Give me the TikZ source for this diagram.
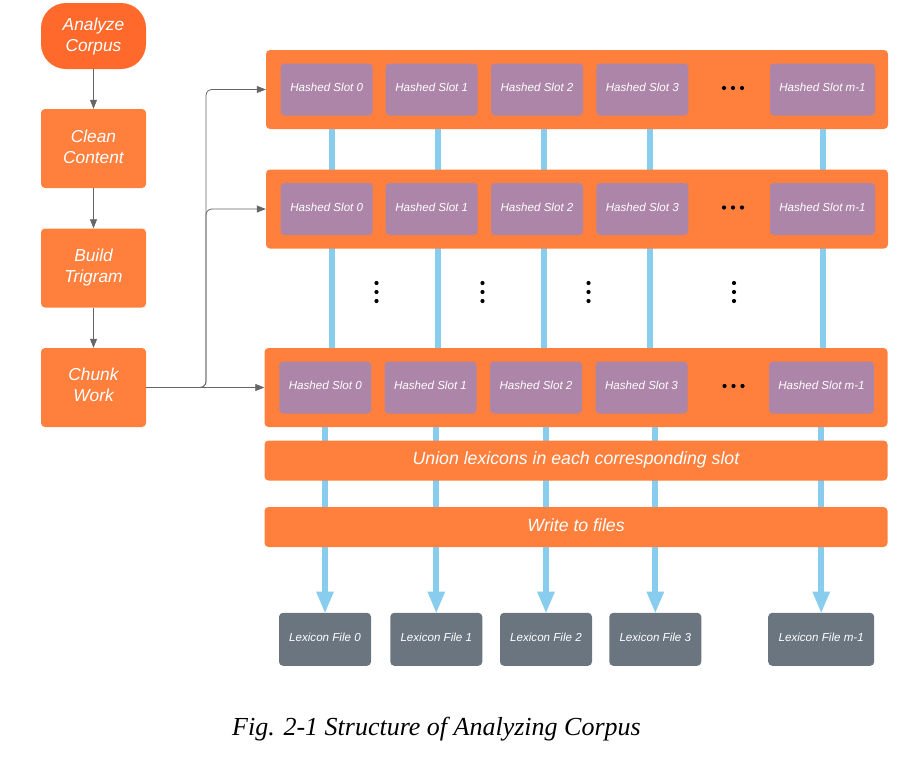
\documentclass[tikz,border=0pt]{standalone}
\usepackage{fontspec}
\setmainfont{Liberation Serif}
\setsansfont{Liberation Sans}
\usetikzlibrary{arrows.meta,backgrounds}
\definecolor{orA}{HTML}{FF6A2C}
\definecolor{orB}{HTML}{FF7F3D}
\definecolor{slotc}{HTML}{AC85A8}
\definecolor{filec}{HTML}{6A7580}
\definecolor{bluec}{HTML}{88CDEE}
\definecolor{arrc}{HTML}{666666}
\tikzset{
  leftbox/.style={fill=orB, draw=none, rounded corners=4pt, minimum width=105pt, minimum height=79pt, inner sep=0pt, text=white, align=center, font=\sffamily\itshape\fontsize{17.3}{21}\selectfont},
  rowbox/.style={fill=orB, draw=none, rounded corners=4pt, minimum width=622pt, minimum height=79pt, inner sep=0pt},
  barbox/.style={fill=orB, draw=none, rounded corners=4pt, minimum width=623pt, minimum height=40pt, inner sep=0pt, text=white, font=\sffamily\itshape\fontsize{17.7}{21}\selectfont},
  slotbox/.style={fill=slotc, draw=none, rounded corners=4pt, minimum width=92pt, minimum height=52pt, inner sep=0pt, text=white, text depth=4pt, font=\sffamily\itshape\fontsize{11.6}{14}\selectfont},
  filebox/.style={fill=filec, draw=none, rounded corners=4pt, minimum width=92pt, minimum height=53pt, inner sep=0pt, text=white, text depth=4pt, font=\sffamily\itshape\fontsize{11.6}{14}\selectfont},
  garrow/.style={draw=arrc, line width=0.8pt, -{Triangle[width=7pt,length=9pt]}},
  bline/.style={draw=bluec, line width=6pt},
  barrow/.style={draw=bluec, line width=6pt, -{Triangle[width=16pt,length=22pt]}, shorten >=-1pt},
  dotc/.style={fill=black, draw=none}
}
\begin{document}
\begin{tikzpicture}[x=1pt,y=-1pt]
\useasboundingbox (0,0) rectangle (897,758);
% left column
\node[leftbox, fill=orA, rounded corners=25pt, minimum height=66pt, text depth=1.6pt] (analyze) at (93.5,36) {Analyze\\Corpus};
\node[leftbox, text depth=4pt] (clean) at (93.5,148.5) {Clean\\Content};
\node[leftbox] (build) at (93.5,268) {Build\\Trigram};
\node[leftbox, text depth=6pt] (chunk) at (93.5,387.5) {Chunk\\Work};
\draw[garrow] (analyze.south) -- (clean.north);
\draw[garrow] (clean.south) -- (build.north);
\draw[garrow] (build.south) -- (chunk.north);
% rows
\node[rowbox] (row1) at (577,89.5) {};
\node[rowbox] (row2) at (577,209) {};
\node[rowbox, minimum width=623pt] (row3) at (576,387.5) {};
\foreach \r/\y in {1/89.5,2/209}{
  \node[slotbox] (s\r a) at (326.7,\y) {Hashed Slot 0};
  \node[slotbox] (s\r b) at (431.7,\y) {Hashed Slot 1};
  \node[slotbox] (s\r c) at (537,\y) {Hashed Slot 2};
  \node[slotbox] (s\r d) at (642.3,\y) {Hashed Slot 3};
  \node[slotbox, minimum width=105pt] (s\r m) at (822.5,\y) {Hashed Slot m-1};
  \foreach \dx in {-9,0,9} \fill[dotc] (733+\dx,\y-1.5) circle (2.1pt);
}
\node[slotbox] (s3a) at (325.3,387.5) {Hashed Slot 0};
\node[slotbox] (s3b) at (430.5,387.5) {Hashed Slot 1};
\node[slotbox] (s3c) at (536,387.5) {Hashed Slot 2};
\node[slotbox] (s3d) at (641.5,387.5) {Hashed Slot 3};
\node[slotbox, minimum width=105pt] (s3m) at (821.5,387.5) {Hashed Slot m-1};
\foreach \dx in {-9,0,9} \fill[dotc] (733.5+\dx,386) circle (2.1pt);
% vertical dots
\foreach \x in {376.5,482.5,588.5,734}{
  \foreach \y in {283,292,301} \fill[dotc] (\x,\y) circle (2.1pt);
}
% bars
\node[barbox, text depth=5.8pt] (union) at (576,460.5) {Union lexicons in each corresponding slot};
\node[barbox, text depth=4pt] (write) at (576,527) {Write to files};
% files
\node[filebox] (f0) at (325,639.3) {Lexicon File 0};
\node[filebox] (f1) at (436.3,639.3) {Lexicon File 1};
\node[filebox] (f2) at (546,639.3) {Lexicon File 2};
\node[filebox] (f3) at (655.3,639.3) {Lexicon File 3};
\node[filebox, minimum width=106pt] (fm) at (821.2,639.3) {Lexicon File m-1};
% blue lines
\begin{scope}[on background layer]
  \foreach \x in {332,438,544,650,822.5}
    \draw[bline] (\x,0 |- row1.south) -- (\x,0 |- row3.north);
  \foreach \f in {f0,f1,f2,f3,fm}
    \draw[barrow] (\f |- row3.south) -- (\f.north);
\end{scope}
% chunk connectors
\coordinate (split) at (206,387.5);
\draw[garrow] (chunk.east) -- (row3.west);
\draw[garrow, rounded corners=6pt] (chunk.east) -- (split) |- (row2.west);
\draw[garrow, rounded corners=6pt] (chunk.east) -- (split) |- (row1.west);
% caption
\node[font=\itshape\fontsize{26}{30}\selectfont, inner sep=0pt] (cap) at (436.5,729) {Fig. 2-1 Structure of Analyzing Corpus};
\end{tikzpicture}
\end{document}
